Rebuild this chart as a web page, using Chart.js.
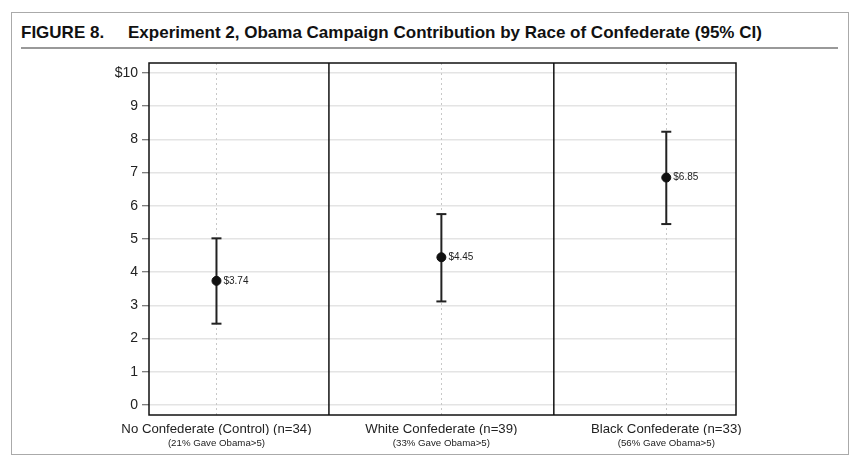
<!DOCTYPE html>
<html>
<head>
<meta charset="utf-8">
<script src="https://cdn.jsdelivr.net/npm/chart.js@4.4.1/dist/chart.umd.min.js"></script>
<style>
  html, body { margin: 0; padding: 0; background: #fff; }
  body { width: 864px; height: 469px; position: relative; overflow: hidden; font-family: "Liberation Sans", Arial, sans-serif; }
  #frame { position: absolute; left: 11px; top: 12px; width: 838px; height: 443px; border: 1px solid #aaa; box-sizing: border-box; }
  .title { position: absolute; top: 23px; font-weight: bold; font-size: 17px; color: #111; white-space: pre; }
  #t1 { left: 21px; }
  #t2 { left: 128px; }
  #rule { position: absolute; left: 21px; top: 47px; width: 817px; height: 2px; background: #999; }
  #wrap { position: absolute; left: 0; top: 0; width: 864px; height: 469px; }
</style>
</head>
<body>
<div id="frame"></div>
<div class="title" id="t1">FIGURE 8.</div>
<div class="title" id="t2">Experiment 2, Obama Campaign Contribution by Race of Confederate (95% CI)</div>
<div id="rule"></div>
<div id="wrap"><canvas id="c"></canvas></div>
<script>
const categories = ["No Confederate (Control) (n=34)", "White Confederate (n=39)", "Black Confederate (n=33)"];
const subLabels = ["(21% Gave Obama>5)", "(33% Gave Obama>5)", "(56% Gave Obama>5)"];
const means = [3.74, 4.45, 6.85];
const ciLower = [2.45, 3.12, 5.45];
const ciUpper = [5.02, 5.75, 8.23];
const valueLabels = ["$3.74", "$4.45", "$6.85"];
const yTicks = [0, 1, 2, 3, 4, 5, 6, 7, 8, 9, 10];
const yTickLabels = ["0", "1", "2", "3", "4", "5", "6", "7", "8", "9", "$10"];

const FONT = "'Liberation Sans', Arial, sans-serif";

const datasets = [{
  label: "mean",
  data: means.map((m, i) => ({ x: i, y: m })),
  showLine: false,
  pointRadius: 4.5,
  pointBackgroundColor: "#111",
  pointBorderColor: "#111",
  pointBorderWidth: 1
}];
categories.forEach((c, i) => {
  datasets.push({
    label: "ci" + i,
    data: [{ x: i, y: ciLower[i] }, { x: i, y: ciUpper[i] }],
    showLine: true,
    borderColor: "#222",
    borderWidth: 2,
    pointStyle: "line",
    pointRadius: 5,
    pointBorderWidth: 2,
    pointBorderColor: "#222"
  });
});

const framePlugin = {
  id: "framePlugin",
  beforeDatasetsDraw(chart) {
    const { ctx, chartArea: a, scales } = chart;
    ctx.save();
    ctx.strokeStyle = "#111";
    ctx.lineWidth = 1.5;
    for (let i = 0; i < categories.length - 1; i++) {
      const px = scales.x.getPixelForValue(i + 0.5);
      ctx.beginPath();
      ctx.moveTo(px, a.top);
      ctx.lineTo(px, a.bottom);
      ctx.stroke();
    }
    ctx.strokeRect(a.left, a.top, a.right - a.left, a.bottom - a.top);
    ctx.restore();
  },
  afterDatasetsDraw(chart) {
    const { ctx, scales } = chart;
    ctx.save();
    ctx.fillStyle = "#222";
    ctx.font = "10px " + FONT;
    ctx.textBaseline = "middle";
    ctx.textAlign = "left";
    means.forEach((m, i) => {
      ctx.fillText(valueLabels[i], scales.x.getPixelForValue(i) + 7, scales.y.getPixelForValue(m));
    });
    ctx.restore();
  }
};

new Chart(document.getElementById("c"), {
  type: "scatter",
  data: { datasets },
  plugins: [framePlugin],
  options: {
    responsive: true,
    maintainAspectRatio: false,
    animation: false,
    layout: { padding: { left: 100, right: 128, top: 63, bottom: 18 } },
    plugins: { legend: { display: false }, tooltip: { enabled: false } },
    scales: {
      y: {
        type: "linear",
        min: -0.3,
        max: 10.3,
        afterBuildTicks: s => { s.ticks = yTicks.map(v => ({ value: v })); },
        afterFit: s => { s.width = 49; },
        ticks: {
          callback: (v, i) => yTickLabels[i],
          font: { size: 14, family: FONT },
          color: "#222",
          padding: 4
        },
        grid: { color: "#e4e4e4", lineWidth: 1.5, tickColor: "#555", tickLength: 7, tickWidth: 1 },
        border: { display: false }
      },
      x: {
        type: "linear",
        position: "bottom",
        weight: 0,
        min: -0.3,
        max: 2.31,
        afterBuildTicks: s => { s.ticks = categories.map((c, i) => ({ value: i })); },
        afterFit: s => { s.height = 20; },
        ticks: {
          callback: (v, i) => categories[i],
          font: { size: 13.2, family: FONT },
          color: "#222",
          padding: 6,
          maxRotation: 0,
          autoSkip: false
        },
        grid: { color: "#c8c8c8", lineWidth: 1, drawTicks: false },
        border: { display: false, dash: [2, 3] }
      },
      x2: {
        type: "linear",
        position: "bottom",
        weight: 1,
        min: -0.3,
        max: 2.31,
        afterBuildTicks: s => { s.ticks = subLabels.map((c, i) => ({ value: i })); },
        afterFit: s => { s.height = 16; },
        ticks: {
          callback: (v, i) => subLabels[i],
          font: { size: 9.7, family: FONT },
          color: "#222",
          padding: 3,
          maxRotation: 0,
          autoSkip: false
        },
        grid: { display: false, drawTicks: false },
        border: { display: false }
      }
    }
  }
});
</script>
</body>
</html>
